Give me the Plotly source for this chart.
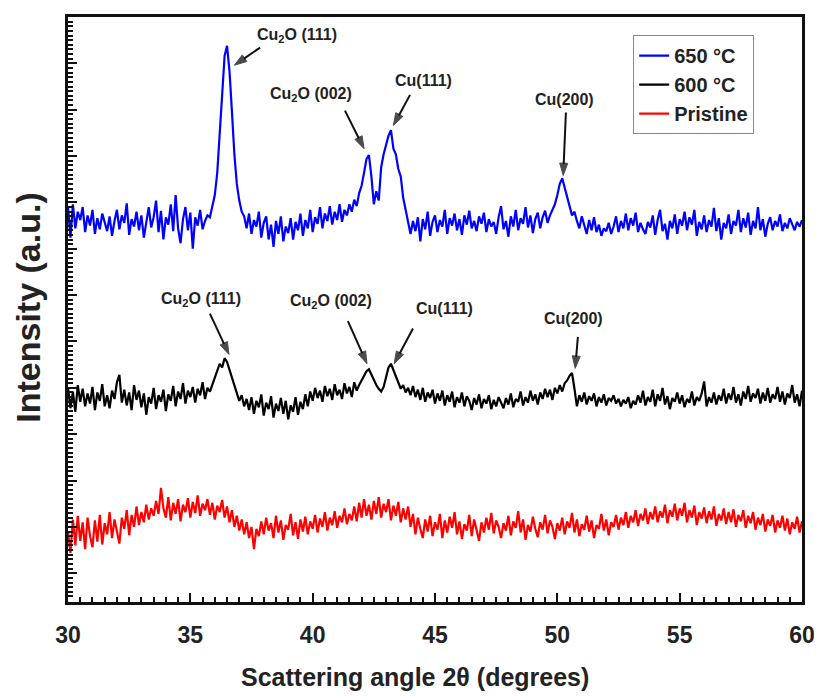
import plotly.graph_objects as go

# 2-theta grid: 30.0 .. 60.0 step 0.1 (rows of 10 values per degree)
two_theta_start = 30.0
two_theta_step = 0.1

y_650 = [
    395, 362, 398, 372, 390, 381, 395, 368, 386, 375,
    392, 366, 383, 371, 388, 377, 369, 385, 364, 380,
    392, 371, 386, 378, 399, 365, 382, 374, 390, 370,
    386, 362, 380, 395, 373, 384, 402, 368, 391, 360,
    384, 376, 398, 369, 408, 372, 356, 382, 395, 370,
    389, 350, 384, 375, 392, 371, 380, 386, 384, 395,
    408, 432, 472, 522, 558, 569, 542, 498, 452, 420,
    402, 390, 385, 372, 388, 366, 381, 374, 390, 362,
    378, 385, 360, 376, 352, 380, 366, 385, 358, 374,
    367, 383, 360, 379, 370, 388, 364, 381, 372, 392,
    368, 384, 377, 395, 372, 388, 380, 396, 376, 390,
    381, 398, 379, 392, 386, 398, 390, 403, 396, 410,
    418, 432, 447, 451, 428, 398, 412, 402, 438, 452,
    462, 472, 478, 458, 452, 436, 428, 405, 392, 378,
    366, 380, 369, 384, 358, 382, 371, 390, 364, 379,
    386, 368, 381, 374, 392, 366, 383, 375, 388, 370,
    382, 365, 386, 376, 391, 372, 380, 369, 385, 377,
    389, 368, 382, 374, 379, 366, 384, 396, 371, 380,
    363, 385, 374, 392, 370, 383, 377, 395, 373, 386,
    367, 382, 389, 372, 384, 391, 378, 386, 392, 398,
    408, 420, 426, 415, 404, 396, 386, 390, 380, 372,
    385, 376, 366, 381, 370, 384, 368, 376, 364, 372,
    369, 378, 366, 374, 385, 368, 380, 372, 388, 370,
    383, 375, 389, 368, 378, 371, 366, 379, 373, 386,
    365, 381, 392, 369, 377, 360, 380, 372, 387, 366,
    382, 375, 390, 370, 384, 376, 392, 364, 379, 371,
    386, 368, 381, 374, 394, 369, 383, 360, 378, 372,
    387, 366, 380, 375, 392, 368, 383, 373, 389, 365,
    380, 372, 395, 370, 382, 363, 377, 384, 370, 380,
    374, 387, 369, 378, 372, 383, 376, 370, 379, 374,
    381,
]

y_600 = [
    200, 178, 196, 174, 203, 185, 199, 180, 194, 183,
    201, 176, 195, 186, 204, 180, 192, 178, 197, 188,
    206, 214, 184, 198, 181, 195, 176, 203, 187, 197,
    179, 194, 171, 190, 183, 200, 177, 192, 185, 198,
    175, 193, 186, 202, 180, 196, 188, 205, 183, 197,
    190, 201, 184, 199, 192, 206, 188, 200, 196, 204,
    210, 218, 226, 222, 232, 228, 220, 212, 203, 195,
    186, 192, 180, 188, 176, 190, 172, 186, 179, 193,
    170, 184, 177, 191, 168, 183, 175, 189, 172, 186,
    166, 181, 174, 190, 171, 185, 177, 193, 180, 196,
    186, 200, 189, 197, 185, 202, 191, 199, 187, 204,
    192, 198, 188, 205, 194, 201, 190, 206, 197, 203,
    208, 212, 218, 220, 214, 207, 203, 199, 196, 201,
    212, 222, 226, 219, 211, 206, 199, 203, 195, 200,
    192, 202, 190, 198, 187, 200, 185, 195, 189, 198,
    183, 194, 186, 197, 181, 192, 185, 196, 179, 190,
    184, 195, 180, 191, 186, 176, 189, 182, 193, 178,
    188, 183, 192, 177, 187, 180, 190, 184, 178, 189,
    182, 194, 179, 188, 185, 196, 181, 190, 184, 197,
    186, 193, 182, 195, 188, 199, 190, 198, 187, 200,
    194, 203, 196, 205, 208, 213, 216, 199, 180, 192,
    185, 195, 182, 191, 186, 194, 180, 190, 184, 193,
    181, 189, 186, 192, 183, 188, 180, 187, 183, 190,
    178, 186, 182, 192, 184, 197, 181, 190, 185, 198,
    180, 193, 186, 200, 182, 191, 177, 189, 185, 195,
    183, 192, 179, 188, 184, 196, 181, 190, 186, 194,
    207, 180, 190, 184, 195, 182, 192, 186, 199, 183,
    194, 187, 201, 184, 193, 181, 196, 188, 202, 185,
    194, 189, 199, 183, 195, 186, 200, 184, 193, 188,
    201, 185, 196, 182, 194, 189, 203, 184, 193, 180,
    197,
]

y_pristine = [
    45, 22, 58, 30, 62, 35, 55, 26, 60, 40,
    28, 57, 34, 63, 31, 54, 42, 66, 38, 58,
    45, 32, 60, 48, 68, 41, 63, 50, 72, 52,
    66, 55, 74, 58, 70, 62, 78, 64, 92, 70,
    60, 82, 57, 76, 64, 80, 56, 74, 66, 81,
    60, 77, 65, 84, 62, 75, 68, 80, 63, 76,
    58, 73, 66, 79, 60, 72, 55, 68, 50, 62,
    46, 58, 42, 55, 38, 50, 26, 48, 40, 56,
    42, 60, 46, 54, 38, 62, 44, 57, 36, 52,
    47, 64, 41, 55, 37, 58, 45, 61, 42, 56,
    48, 63, 44, 59, 50, 66, 46, 60, 52, 67,
    49, 62, 55, 70, 53, 64, 57, 72, 56, 76,
    60, 80, 62, 74, 58, 78, 64, 82, 60, 75,
    66, 80, 57, 73, 62, 77, 55, 70, 58, 72,
    50, 64, 42, 60, 48, 38, 58, 45, 62, 40,
    55, 47, 64, 38, 57, 44, 61, 49, 66, 42,
    56, 37, 53, 46, 63, 40, 58, 48, 35, 55,
    44, 60, 47, 65, 43, 57, 50, 38, 54, 46,
    62, 41, 56, 49, 67, 44, 58, 36, 52, 45,
    61, 48, 39, 55, 47, 63, 43, 57, 50, 37,
    54, 46, 60, 42, 56, 49, 65, 44, 58, 40,
    53, 47, 62, 45, 57, 38, 52, 48, 64, 46,
    58, 41, 55, 50, 63, 47, 60, 52, 66, 49,
    62, 55, 68, 51, 64, 57, 70, 53, 66, 58,
    72, 55, 67, 60, 74, 54, 68, 61, 75, 57,
    70, 62, 76, 55, 68, 60, 73, 52, 66, 59,
    71, 54, 67, 58, 72, 51, 64, 57, 70, 53,
    66, 55, 69, 50, 63, 56, 68, 49, 62, 54,
    66, 47, 60, 52, 64, 45, 58, 51, 63, 44,
    57, 49, 62, 46, 59, 42, 55, 48, 61, 44,
    56,
]

series_names = ["650 \u00b0C", "600 \u00b0C", "Pristine"]
series_colors = ["#0000ff", "#000000", "#ff0000"]

# peak labels: text, text position (x, y), arrow tail (x, y), arrow head (x, y)
label_texts = [
    "Cu<sub>2</sub>O (111)", "Cu<sub>2</sub>O (002)", "Cu(111)", "Cu(200)",
    "Cu<sub>2</sub>O (111)", "Cu<sub>2</sub>O (002)", "Cu(111)", "Cu(200)",
]
label_x = [39.36, 39.93, 44.51, 50.31, 35.44, 40.75, 45.37, 50.68]
label_y = [580, 516, 531, 511, 295, 293, 286, 275]
tail_x = [37.85, 41.32, 43.98, 50.35, 35.80, 41.44, 44.10, 50.84]
tail_y = [567, 499, 516, 497, 280, 272, 264, 255]
head_x = [36.80, 42.10, 43.30, 50.24, 36.58, 42.22, 43.33, 50.73]
head_y = [548, 458, 483, 429, 236, 226, 226, 221]

x_ticks = [30, 35, 40, 45, 50, 55, 60]
x_title = "Scattering angle 2\u03b8 (degrees)"
y_title = "Intensity (a.u.)"

fig = go.Figure()
for name, color, ys in zip(series_names, series_colors, [y_650, y_600, y_pristine]):
    xs = [round(two_theta_start + two_theta_step * i, 1) for i in range(len(ys))]
    fig.add_trace(go.Scatter(x=xs, y=ys, mode="lines", name=name,
                             line=dict(color=color, width=2.2)))

# arrows: line from tail to head with an arrow marker at the head
for tx, ty, hx, hy in zip(tail_x, tail_y, head_x, head_y):
    fig.add_trace(go.Scatter(
        x=[tx, hx], y=[ty, hy], mode="lines+markers", showlegend=False, hoverinfo="skip",
        line=dict(color="#111", width=2),
        marker=dict(symbol=["circle", "arrow"], size=[0, 13], angleref="previous",
                    color="#000", line=dict(width=1, color="#000")),
    ))

annotations = []
for t, lx, ly in zip(label_texts, label_x, label_y):
    annotations.append(dict(x=lx, y=ly, xref="x", yref="y", text=t, showarrow=False,
                            font=dict(family="Liberation Sans", size=16, color="#222", weight="bold")))
annotations.append(dict(x=0.473, y=-0.129, xref="paper", yref="paper", text=x_title,
                        showarrow=False, xanchor="center", yanchor="middle",
                        font=dict(family="Liberation Sans", size=25, color="#222", weight="bold")))
annotations.append(dict(x=-0.0545, y=0.503, xref="paper", yref="paper", text=y_title,
                        showarrow=False, xanchor="center", yanchor="middle", textangle=-90,
                        font=dict(family="Liberation Sans", size=34, color="#222", weight="bold")))

fig.update_layout(
    width=814, height=688,
    margin=dict(l=60, r=20, t=6, b=94),
    paper_bgcolor="white", plot_bgcolor="white",
    font=dict(family="Liberation Sans", color="#111"),
    showlegend=True,
    legend=dict(x=0.77, y=0.969, xanchor="left", yanchor="top",
                bordercolor="#888", borderwidth=1, bgcolor="white",
                font=dict(family="Liberation Sans", size=20, color="#222", weight="bold")),
    annotations=annotations,
)
fig.update_xaxes(
    range=[30, 60], tickvals=x_ticks, ticks="inside", ticklen=9, tickwidth=2, tickcolor="#111",
    minor=dict(dtick=0.5, ticks="inside", ticklen=5, tickwidth=1.5, tickcolor="#111"),
    showline=True, linewidth=3, linecolor="#111", mirror=True, showgrid=False, zeroline=False,
    tickfont=dict(family="Liberation Sans", size=23, color="#222", weight="bold"),
    ticklabelstandoff=10,
)
fig.update_yaxes(
    range=[-31, 600], tick0=0, dtick=50, showticklabels=False,
    ticks="inside", ticklen=9, tickwidth=2, tickcolor="#111",
    minor=dict(dtick=5, ticks="inside", ticklen=5, tickwidth=1.5, tickcolor="#111"),
    showline=True, linewidth=3, linecolor="#111", mirror=True, showgrid=False, zeroline=False,
)

fig.write_html("out.html")
